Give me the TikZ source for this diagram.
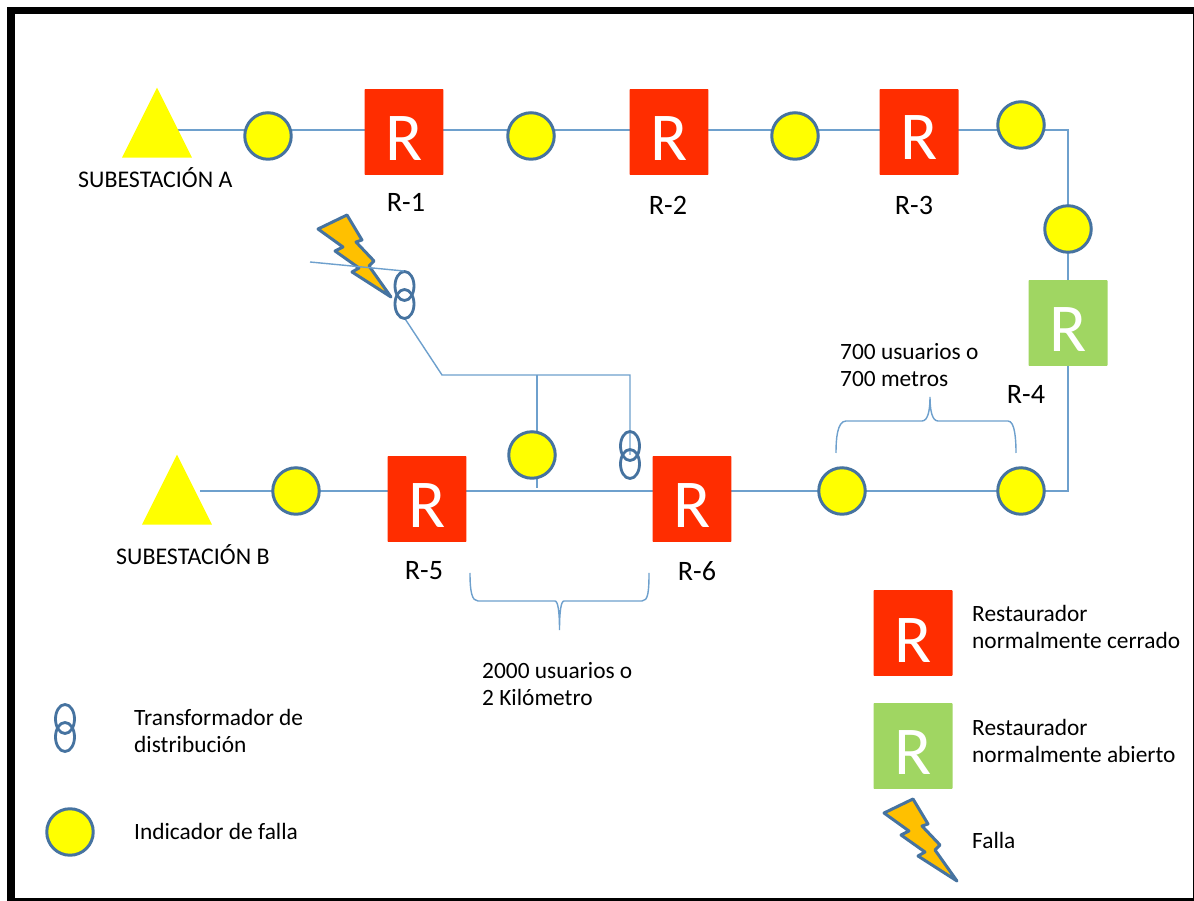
\documentclass[tikz,border=0pt]{standalone}
\usepackage{fontspec}
\setmainfont{Carlito}
\usepackage{tikz}
\usetikzlibrary{shapes.geometric, positioning, calc}
\definecolor{linea}{RGB}{110,160,205}
\definecolor{borde}{RGB}{70,115,160}
\definecolor{rojo}{RGB}{255,45,0}
\definecolor{verde}{RGB}{160,214,98}
\definecolor{amarillo}{RGB}{255,255,0}
\definecolor{naranja}{RGB}{255,192,0}
\tikzset{
    indicador/.style={circle, draw=borde, fill=amarillo, line width=1.7pt, minimum size=.93cm, inner sep=0pt},
    rest/.style={rectangle, rounded corners=.5pt, text=white, minimum width=1.58cm, minimum height=1.72cm, inner sep=0pt},
    cerrado/.style={rest, fill=rojo},
    abierto/.style={rest, fill=verde},
    subest/.style={isosceles triangle, isosceles triangle apex angle=53, isosceles triangle stretches, shape border rotate=90, fill=amarillo, inner sep=0pt, minimum height=1.4cm, minimum width=1.4cm},
    letra/.style={text=white, font=\fontsize{39}{39}\selectfont, inner sep=0pt},
    etiq/.style={font=\fontsize{16}{16}\selectfont, text=black},
    texto/.style={font=\fontsize{13.3}{15.5}\selectfont, align=left, anchor=west, text=black},
    titulo/.style={font=\fontsize{13.6}{13.6}\selectfont, anchor=west, text=black},
    linea/.style={draw=linea, line width=.8pt},
    anillo/.style={draw=borde, line width=1.6pt},
}
\newcommand{\trafo}[1]{%
    \draw[anillo] ($(#1)+(0,-9)$) ellipse (9.5 and 14.5);
    \draw[anillo] ($(#1)+(0,9)$) ellipse (9.5 and 14.5);
}
\newcommand{\rayo}[1]{%
    \draw[borde, fill=naranja, line width=1.7pt, line join=round, shift={(#1)}]
        (-36,-27)--(-7,-41)--(8,-16)--(2,-14)--(20,5)--(15,10)--(37,41)--(-2,16)--(5,12)--(-19,-5)--(-11,-9)--cycle;
}
\begin{document}
\begin{tikzpicture}[x=.02cm,y=-.02cm]
    \useasboundingbox (0,0) rectangle (1194,901);
    \fill[white] (0,0) rectangle (1194,901);
    \fill[black] (7,7) rectangle (1194,901);
    \fill[white] (15,14.5) rectangle (1192.5,898);

    % linea principal
    \coordinate (a0) at (157,130);
    \coordinate (codo1) at (1068,130);
    \coordinate (codo2) at (1068,491);
    \coordinate (b0) at (200,491);
    \draw[linea] (a0)--(codo1)--(codo2)--(b0);

    % ramal
    \coordinate (t1) at (404.5,295);
    \coordinate (r0) at (404.5,318);
    \coordinate (r1) at (442,375);
    \coordinate (r2) at (537,375);
    \coordinate (r3) at (630,375);
    \coordinate (r4) at (537,488);
    \coordinate (t2) at (630,455);
    \coordinate (f1) at (310,262);
    \coordinate (f2) at (404,271);
    \draw[linea] (r0)--(r1)--(r3)--(t2);
    \draw[linea] (r2)--(r4);

    \node[subest] (subA) at (157,136) {};
    \node[subest] (subB) at (177,503) {};

    \node[indicador] (i1) at (268,136) {};
    \node[indicador] (i2) at (531,136) {};
    \node[indicador] (i3) at (795,136) {};
    \node[indicador] (i4) at (1021,125) {};
    \node[indicador] (i5) at (1068,229) {};
    \node[indicador] (i6) at (1021,491) {};
    \node[indicador] (i7) at (842,491) {};
    \node[indicador] (i8) at (296,491) {};
    \node[indicador] (i9) at (532,455) {};

    \node[cerrado] (R1) at (404,132) {};
    \node[cerrado] (R2) at (669,132) {};
    \node[cerrado] (R3) at (919,132) {};
    \node[abierto] (R4) at (1068,323) {};
    \node[cerrado] (R5) at (427,499) {};
    \node[cerrado] (R6) at (692,499) {};
    \node[letra] at (404,139) {R};
    \node[letra] at (669,139) {R};
    \node[letra] at (919,138) {R};
    \node[letra] at (1068,330) {R};
    \node[letra] at (427,506) {R};
    \node[letra] at (692,506) {R};

    \node[etiq] at (406,202) {R-1};
    \node[etiq] at (668,205) {R-2};
    \node[etiq] at (914,205) {R-3};
    \node[etiq] at (1026,394) {R-4};
    \node[etiq] at (424,571) {R-5};
    \node[etiq] at (697,571) {R-6};
    \node[titulo] at (72,178) {SUBESTACIÓN A};
    \node[titulo] at (110,555) {SUBESTACIÓN B};

    \trafo{t1}
    \trafo{t2}
    \rayo{354,256}
    \draw[linea] (f1)--(f2);

    % llaves
    \draw[linea] (836,453) .. controls (836,440) and (837,421) .. (846,421)
        -- (922,421) .. controls (928,421) and (930,410) .. (930,397)
        .. controls (930,410) and (932,421) .. (938,421)
        -- (1008,421) .. controls (1015,421) and (1016,440) .. (1016,453);
    \draw[linea] (470,573) .. controls (470,592) and (472,601) .. (478,601)
        -- (555,601) .. controls (558,601) and (559.5,612) .. (559.5,630)
        .. controls (559.5,612) and (561,601) .. (564,601)
        -- (642,601) .. controls (648,601) and (649,592) .. (649,573);
    \node[texto] at (834,365) {700 usuarios o\\700 metros};
    \node[texto] at (476,684) {2000 usuarios o\\2 Kilómetro};

    % leyenda
    \coordinate (t3) at (65,728);
    \trafo{t3}
    \node[texto] at (128,731) {Transformador de\\distribución};
    \node[indicador] (i10) at (70,832) {};
    \node[texto] at (128,831) {Indicador de falla};
    \node[cerrado] (R7) at (913,633) {};
    \node[letra] at (913,641) {R};
    \node[texto] at (966,627) {Restaurador\\normalmente cerrado};
    \node[abierto] (R8) at (913,746) {};
    \node[letra] at (913,753) {R};
    \node[texto] at (966,741) {Restaurador\\normalmente abierto};
    \rayo{920,840}
    \node[texto] at (966,840) {Falla};
\end{tikzpicture}
\end{document}
